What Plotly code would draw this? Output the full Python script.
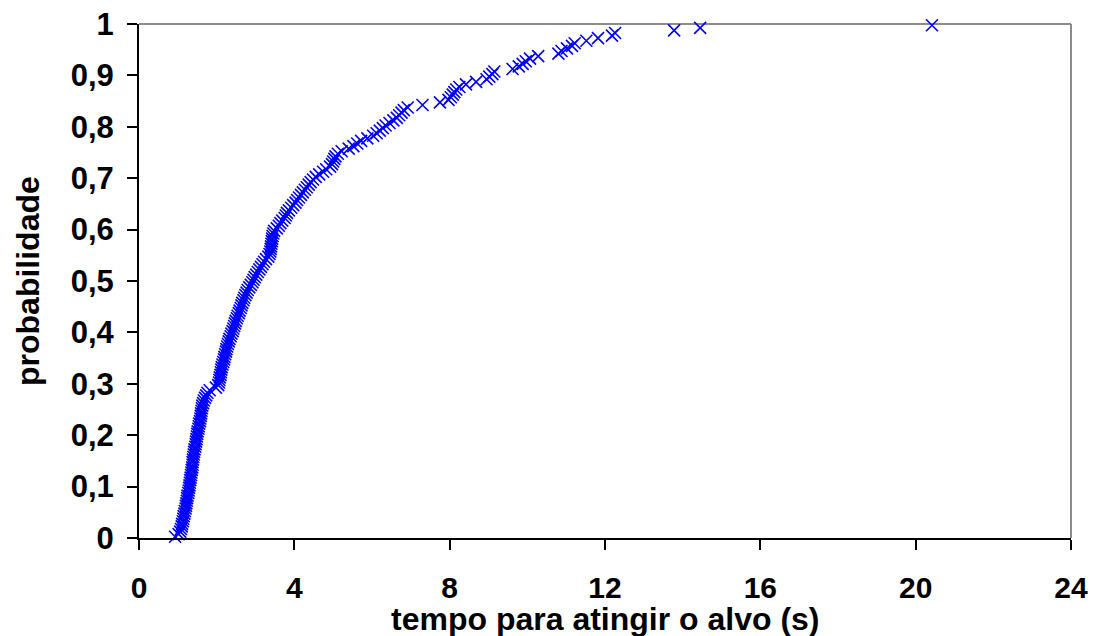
import plotly.graph_objects as go

# Sorted times to reach target (s) (200 runs)
tempo = [
    0.93, 1.02, 1.06, 1.08, 1.10, 1.11, 1.13, 1.14, 1.15, 1.17,
    1.18, 1.20, 1.21, 1.22, 1.23, 1.24, 1.25, 1.27, 1.28, 1.29,
    1.30, 1.31, 1.32, 1.33, 1.34, 1.35, 1.36, 1.37, 1.38, 1.38,
    1.39, 1.40, 1.41, 1.42, 1.43, 1.45, 1.46, 1.47, 1.48, 1.49,
    1.50, 1.51, 1.53, 1.54, 1.55, 1.57, 1.58, 1.59, 1.60, 1.61,
    1.62, 1.63, 1.65, 1.67, 1.70, 1.73, 1.76, 1.82, 1.98, 2.04,
    2.06, 2.07, 2.08, 2.10, 2.11, 2.12, 2.13, 2.15, 2.17, 2.19,
    2.20, 2.22, 2.24, 2.25, 2.27, 2.29, 2.31, 2.33, 2.36, 2.38,
    2.41, 2.43, 2.45, 2.47, 2.49, 2.52, 2.54, 2.57, 2.59, 2.62,
    2.64, 2.66, 2.69, 2.71, 2.74, 2.77, 2.80, 2.84, 2.88, 2.92,
    2.95, 2.98, 3.02, 3.06, 3.10, 3.14, 3.18, 3.22, 3.27, 3.33,
    3.36, 3.38, 3.39, 3.40, 3.41, 3.42, 3.43, 3.44, 3.46, 3.48,
    3.55, 3.60, 3.64, 3.69, 3.75, 3.78, 3.81, 3.86, 3.92, 3.97,
    4.03, 4.07, 4.12, 4.17, 4.22, 4.27, 4.32, 4.37, 4.42, 4.48,
    4.55, 4.64, 4.74, 4.82, 4.92, 4.97, 5.00, 5.03, 5.06, 5.12,
    5.22, 5.40, 5.52, 5.62, 5.72, 5.88, 6.03, 6.12, 6.20, 6.28,
    6.35, 6.45, 6.55, 6.64, 6.70, 6.76, 6.82, 6.92, 7.30, 7.75,
    7.97, 8.03, 8.08, 8.12, 8.17, 8.25, 8.42, 8.68, 8.95, 9.02,
    9.10, 9.15, 9.62, 9.78, 9.88, 9.96, 10.07, 10.28, 10.80, 10.88,
    11.02, 11.15, 11.22, 11.52, 11.82, 12.18, 12.26, 13.78, 14.45, 20.42,
]

# Empirical probability of each sorted run: (i - 0.5) / n
n = len(tempo)
probabilidade = [(i + 0.5) / n for i in range(n)]

x_ticks = [0, 4, 8, 12, 16, 20, 24]
y_ticks = [0, 0.1, 0.2, 0.3, 0.4, 0.5, 0.6, 0.7, 0.8, 0.9, 1]
y_tick_labels = ["0", "0,1", "0,2", "0,3", "0,4", "0,5", "0,6", "0,7", "0,8", "0,9", "1"]
x_title = "tempo para atingir o alvo (s)"
y_title = "probabilidade"

FONT = "Liberation Sans, Arial, sans-serif"

fig = go.Figure()
fig.add_trace(go.Scatter(
    x=tempo, y=probabilidade, mode="markers",
    marker=dict(symbol="x-thin", size=12, color="#0000FF",
                line=dict(color="#0000FF", width=1.6)),
    cliponaxis=False, showlegend=False,
))

fig.update_layout(
    width=1093, height=636,
    margin=dict(l=139, r=22, t=24, b=98),
    paper_bgcolor="white", plot_bgcolor="white",
    font=dict(family=FONT, color="black"),
    xaxis=dict(
        range=[0, 24], tickvals=x_ticks, ticktext=[str(v) for v in x_ticks],
        automargin=False,
        showgrid=False, zeroline=False, showline=True, linecolor="black", linewidth=2,
        ticks="outside", ticklen=10, tickwidth=1.5, tickcolor="black",
        tickfont=dict(family=FONT, size=30, color="black", weight="bold"),
        ticklabelstandoff=12,
    ),
    yaxis=dict(
        range=[0, 1], tickvals=y_ticks, ticktext=y_tick_labels,
        automargin=False,
        showgrid=False, zeroline=False, showline=True, linecolor="black", linewidth=2,
        ticks="outside", ticklen=10, tickwidth=1.5, tickcolor="black",
        tickfont=dict(family=FONT, size=31, color="black", weight="bold"),
        ticklabelstandoff=7,
    ),
    annotations=[
        dict(text="<b>" + x_title + "</b>", xref="paper", yref="paper",
             x=0.5, y=0, xanchor="center", yanchor="top", yshift=-61,
             showarrow=False, font=dict(family=FONT, size=32, color="black")),
        dict(text="<b>" + y_title + "</b>", xref="paper", yref="paper",
             x=0, y=0.5, xanchor="center", yanchor="middle", xshift=-111,
             textangle=-90, showarrow=False,
             font=dict(family=FONT, size=32, color="black")),
    ],
    shapes=[
        dict(type="line", xref="paper", yref="paper", x0=0, x1=1, y0=1, y1=1,
             line=dict(color="#8c8c8c", width=2), layer="below"),
        dict(type="line", xref="paper", yref="paper", x0=1, x1=1, y0=0, y1=1,
             line=dict(color="#8c8c8c", width=2), layer="below"),
    ],
)

fig.write_html("out.html")
